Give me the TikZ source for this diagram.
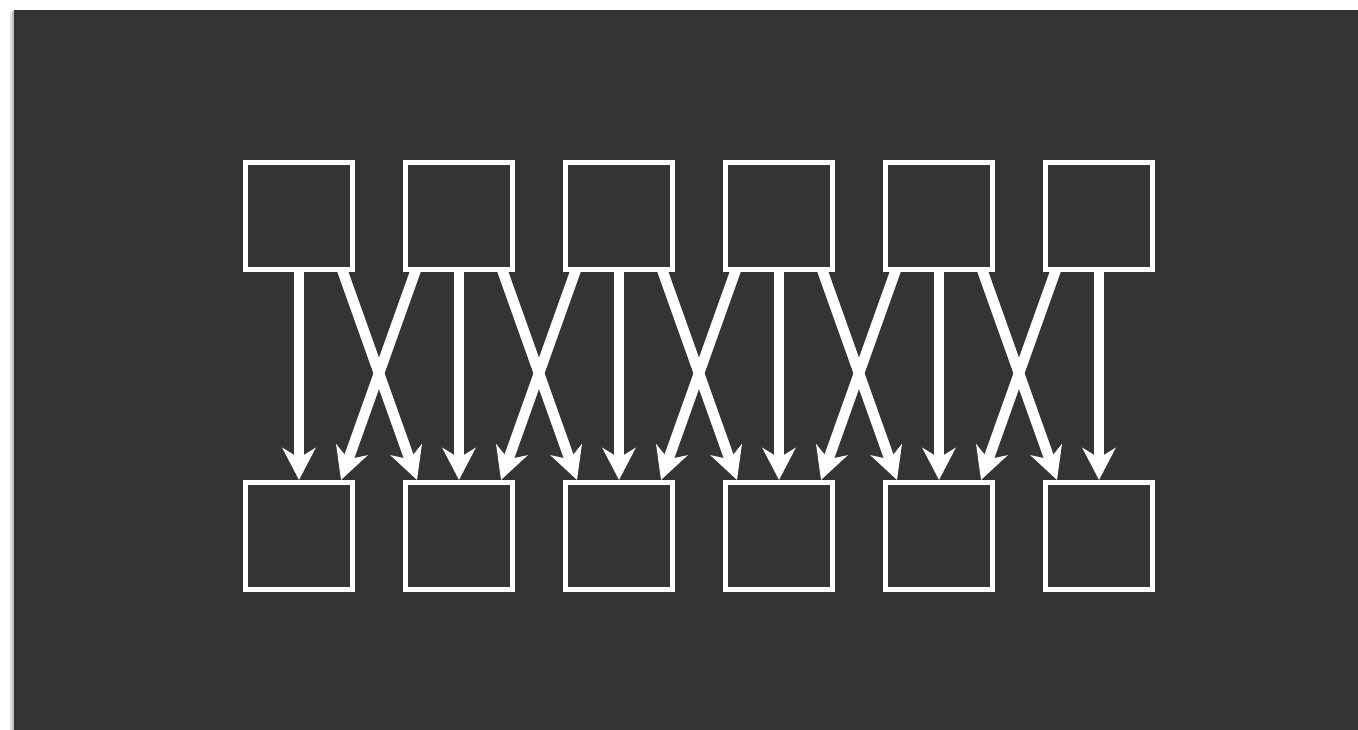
\documentclass[tikz,border=0pt]{standalone}
\usetikzlibrary{arrows.meta}
\definecolor{panel}{RGB}{52,52,52}
\begin{document}
\begin{tikzpicture}[x=1pt,y=-1pt,
  box/.style={draw=white,line width=5pt,minimum width=107pt,minimum height=107pt,inner sep=0pt},
  conn/.style={draw=white,line width=10.5pt,-{Stealth[length=32pt,width=33pt,inset=10pt]}}]
\fill[white] (0,0) rectangle (1358,730);
\useasboundingbox (0,0) rectangle (1358,730);
\fill[black!12] (10,12) rectangle (14,730);
\fill[black!25] (12,11) rectangle (14,730);
\fill[panel] (14,10) rectangle (1358,730);
\foreach \i in {1,...,6}{
  \node[box] (t\i) at ({299+160*(\i-1)},216) {};
  \node[box] (b\i) at ({299+160*(\i-1)},536) {};
}
\foreach \i in {1,...,6}{
  \draw[conn] ([yshift=2.5pt]t\i.south) -- (b\i.north);
}
\foreach \i in {1,...,5}{
  \pgfmathtruncatemacro{\j}{\i+1}
  \draw[conn] ([xshift=43pt,yshift=2.5pt]t\i.south) -- ([xshift=-42pt]b\j.north);
  \draw[conn] ([xshift=-43pt,yshift=2.5pt]t\j.south) -- ([xshift=42pt]b\i.north);
}
\end{tikzpicture}
\end{document}
